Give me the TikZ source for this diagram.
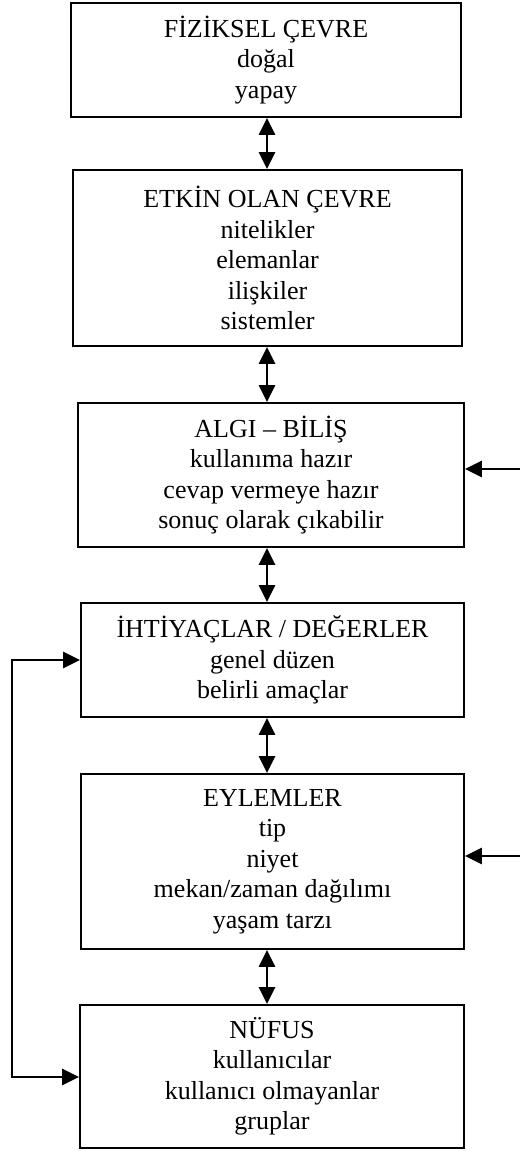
\documentclass[tikz,border=0pt]{standalone}
\usepackage{fontspec}
\setmainfont{Liberation Serif}
\usetikzlibrary{arrows.meta}
\begin{document}
\begin{tikzpicture}[x=1pt,y=-1pt,
  box/.style={draw,line width=1.8pt,inner sep=0pt,align=center,
    font=\fontsize{26}{30.5}\selectfont},
  link/.style={line width=2.5pt,{Triangle[length=17pt,width=16pt]}-{Triangle[length=17pt,width=16pt]}},
  feed/.style={line width=2.5pt,-{Triangle[length=17pt,width=16pt]}}]
\useasboundingbox (0,0) rectangle (520,1151);

% stacked boxes
\node[box,minimum width=390pt,minimum height=114pt] (b1) at (266,60)
  {FİZİKSEL ÇEVRE\\doğal\\yapay};
\node[box,minimum width=389pt,minimum height=176pt] (b2) at (267.5,258)
  {ETKİN OLAN ÇEVRE\\nitelikler\\elemanlar\\ilişkiler\\sistemler};
\node[box,minimum width=386pt,minimum height=144pt] (b3) at (271,475)
  {ALGI – BİLİŞ\\kullanıma hazır\\cevap vermeye hazır\\sonuç olarak çıkabilir};
\node[box,minimum width=383pt,minimum height=114pt] (b4) at (272.5,660)
  {İHTİYAÇLAR / DEĞERLER\\genel düzen\\belirli amaçlar};
\node[box,minimum width=383pt,minimum height=175pt] (b5) at (272.5,861.5)
  {EYLEMLER\\tip\\niyet\\mekan/zaman dağılımı\\yaşam tarzı};
\node[box,minimum width=384pt,minimum height=143pt] (b6) at (272,1076.5)
  {NÜFUS\\kullanıcılar\\kullanıcı olmayanlar\\gruplar};

% two-way links between neighbouring boxes
\coordinate (axis) at (267,0);
\draw[link] (b1.south -| axis) -- (b2.north -| axis);
\draw[link] (b2.south -| axis) -- (b3.north -| axis);
\draw[link] (b3.south -| axis) -- (b4.north -| axis);
\draw[link] (b4.south -| axis) -- (b5.north -| axis);
\draw[link] (b5.south -| axis) -- (b6.north -| axis);

% inputs from the right
\coordinate (r1) at (520,469);
\coordinate (r2) at (520,856);
\draw[feed] (r1) -- (r1 -| b3.east);
\draw[feed] (r2) -- (r2 -| b5.east);

% loop on the left
\coordinate (l1) at (12,660);
\coordinate (l2) at (12,1077);
\draw[link] (l1 -| b4.west) -- (l1) -- (l2) -- (l2 -| b6.west);
\end{tikzpicture}
\end{document}
